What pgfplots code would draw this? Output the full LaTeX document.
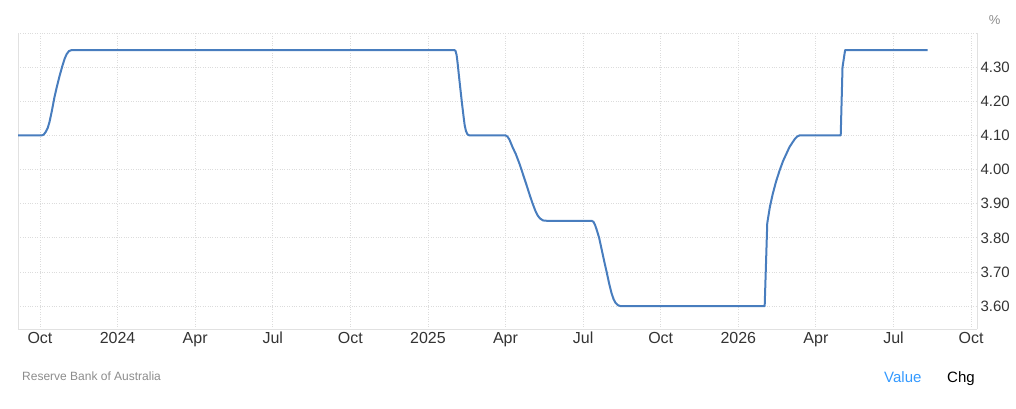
\documentclass[border=0pt]{standalone}
\usepackage{pgfplots}
\pgfplotsset{compat=1.18}
\usepackage{fontspec}
\setmainfont{Liberation Sans}
\definecolor{lineblue}{RGB}{72,125,190}
\definecolor{gridc}{RGB}{220,220,220}
\definecolor{axisc}{RGB}{225,225,225}
\definecolor{labc}{RGB}{51,51,51}
\definecolor{srcc}{RGB}{140,140,140}
\definecolor{valc}{RGB}{51,153,255}
\begin{document}
\begin{tikzpicture}[x=1pt,y=1pt]
\useasboundingbox (0,0) rectangle (1016,408);
\begin{axis}[
  at={(18pt,79pt)}, anchor=south west,
  scale only axis, width=959pt, height=296pt,
  xmin=-3.85, xmax=33.23, ymin=3.533, ymax=4.40,
  axis line style={axisc, line width=0.8pt},
  axis x line*=bottom, axis y line*=right,
  separate axis lines,
  xtick={-3,0,3,6,9,12,15,18,21,24,27,30,33},
  xticklabels={Oct,2024,Apr,Jul,Oct,2025,Apr,Jul,Oct,2026,Apr,Jul,Oct},
  ytick={3.6,3.7,3.8,3.9,4.0,4.1,4.2,4.3},
  yticklabels={3.60,3.70,3.80,3.90,4.00,4.10,4.20,4.30},
  extra y ticks={4.4}, extra y tick labels={},
  extra y tick style={grid=major},
  major tick length=0pt,
  grid=major,
  major grid style={gridc, dotted, line width=0.8pt},
  xticklabel style={font=\fontsize{16}{18}\selectfont, text=labc, text height=11.5pt, text depth=3.5pt, yshift=1pt},
  yticklabel style={font=\fontsize{15}{17}\selectfont, text=labc, xshift=0pt},
  clip=false,
]
\draw[axisc, line width=0.8pt] (axis cs:-3.85,3.533) -- (axis cs:-3.85,4.40);
\addplot[lineblue, line width=2pt, line join=round] coordinates {
(-3.85,4.10) (-2.94,4.10) (-2.86,4.102) (-2.78,4.11) (-2.70,4.122) (-2.63,4.140) (-2.54,4.172) (-2.44,4.212) (-2.34,4.245) (-2.24,4.275) (-2.14,4.302) (-2.05,4.324) (-1.97,4.338) (-1.88,4.347) (-1.78,4.35)
(13.03,4.35) (13.07,4.347) (13.11,4.335) (13.15,4.31) (13.22,4.26) (13.30,4.205) (13.37,4.16) (13.42,4.13) (13.47,4.113) (13.53,4.103) (13.61,4.10)
(15.00,4.10) (15.07,4.097) (15.15,4.088) (15.27,4.066) (15.40,4.045) (15.55,4.015) (15.68,3.985) (15.82,3.953) (15.95,3.922) (16.05,3.90) (16.15,3.88) (16.24,3.866) (16.33,3.857) (16.45,3.851) (16.59,3.85)
(18.33,3.85) (18.40,3.847) (18.46,3.838) (18.52,3.825) (18.62,3.80) (18.72,3.765) (18.82,3.73) (18.91,3.70) (19.01,3.665) (19.10,3.638) (19.18,3.62) (19.25,3.61) (19.34,3.603) (19.45,3.60)
(25.02,3.60) (25.12,3.843) (25.22,3.89) (25.33,3.928) (25.46,3.965) (25.60,3.998) (25.73,4.025) (25.87,4.048) (25.98,4.066) (26.10,4.08) (26.20,4.091) (26.28,4.097) (26.37,4.10)
(27.96,4.10) (28.03,4.30) (28.13,4.35)
(31.32,4.35)
};
\end{axis}
\node[anchor=base east, text=srcc, font=\fontsize{13}{15}\selectfont] at (1004,400-17) {\%};
\node[anchor=base west, text=srcc, font=\fontsize{12}{14}\selectfont, inner sep=0pt] at (22,408-380) {Reserve Bank of Australia};
\node[anchor=base west, text=valc, font=\fontsize{15}{17}\selectfont, inner sep=0pt] at (884,408-382) {Value};
\node[anchor=base west, text=black, font=\fontsize{15}{17}\selectfont, inner sep=0pt] at (947,408-382) {Chg};
\end{tikzpicture}
\end{document}
